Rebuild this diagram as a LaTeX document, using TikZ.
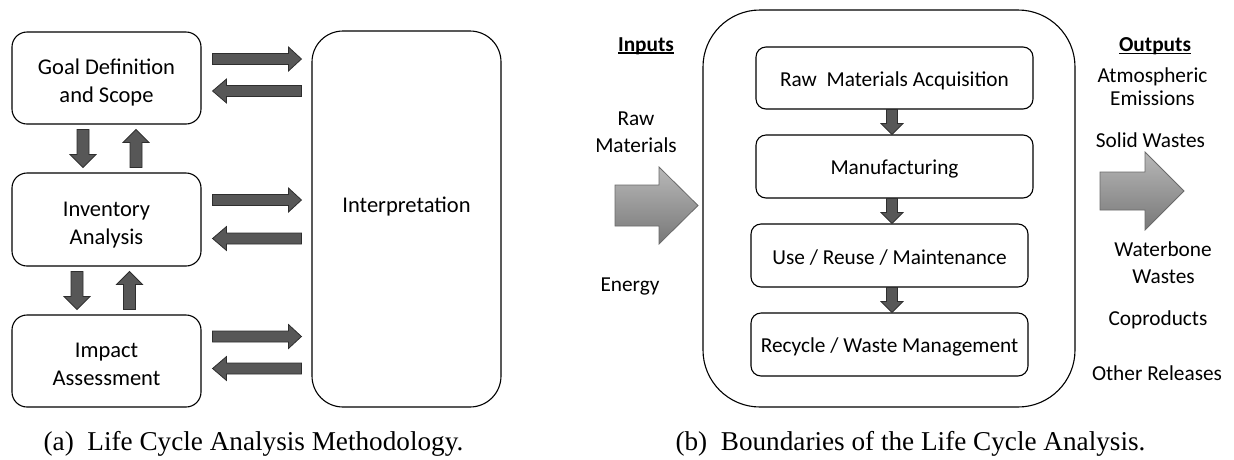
\documentclass[tikz,border=0pt]{standalone}
\usepackage{fontspec}
\setmainfont{Carlito}
\newfontfamily\capfont{Liberation Serif}
\usetikzlibrary{calc}

\definecolor{arrowfill}{HTML}{575757}
\definecolor{arrowline}{HTML}{2E2E2E}
\definecolor{shadetop}{HTML}{B8B8B8}
\definecolor{shadebot}{HTML}{787878}
\definecolor{shadeline}{HTML}{6A6A6A}

% underlined heading word, rule drawn just below the baseline
\newcommand\ulword[1]{\setbox0=\hbox{#1}\rlap{\rule[-2.6pt]{\wd0}{1.4pt}}\box0}
% box text block moved vertically without changing the node size
\newcommand\shifted[2]{\raisebox{#1}[\height][\depth]{\begin{tabular}{@{}c@{}}#2\end{tabular}}}

\tikzset{
  % block arrow drawn along the straight line from start to target:
  % #1 half shaft width, #2 half head width, #3 head length
  fatarrow/.style n args={3}{
    to path={
      let \p1=(\tikztostart), \p2=(\tikztotarget),
          \n1={veclen(\x2-\x1,\y2-\y1)},
          \n2={(\x2-\x1)/\n1}, \n3={(\y2-\y1)/\n1},
          \n4={\n1-#3}
      in
      ({\x1-\n3*#1},{\y1+\n2*#1})
      -- ({\x1+\n2*\n4-\n3*#1},{\y1+\n3*\n4+\n2*#1})
      -- ({\x1+\n2*\n4-\n3*#2},{\y1+\n3*\n4+\n2*#2})
      -- (\p2)
      -- ({\x1+\n2*\n4+\n3*#2},{\y1+\n3*\n4-\n2*#2})
      -- ({\x1+\n2*\n4+\n3*#1},{\y1+\n3*\n4-\n2*#1})
      -- ({\x1+\n3*#1},{\y1-\n2*#1})
      -- cycle
    }
  },
  darkarrow/.style={fill=arrowfill, draw=arrowline, line width=0.8pt, line join=miter},
  shadearrow/.style={top color=shadetop, bottom color=shadebot, draw=shadeline, line width=0.8pt, line join=miter},
  leftfont/.style={font=\fontsize{22.5}{28}\selectfont},
  rightfont/.style={font=\fontsize{21.3}{25.5}\selectfont},
  box/.style={draw=black, line width=1.1pt, rounded corners=15pt, align=center, inner sep=0pt, leftfont},
  stagebox/.style={draw=black, line width=1.1pt, rounded corners=10pt, align=center, inner sep=0pt,
    minimum width=277pt, minimum height=63pt, rightfont},
  lbl/.style={inner sep=0pt, anchor=base, align=center, rightfont},
  caption/.style={inner sep=0pt, anchor=base, font=\capfont\fontsize{27.2}{32}\selectfont}
}

\begin{document}
\begin{tikzpicture}[x=1pt, y=-1pt]
  \useasboundingbox (0,0) rectangle (1234,459);

  % ---------- (a) methodology ----------
  \node[box, minimum width=189pt, minimum height=92pt] (goal) at (106.5,78)
       {\shifted{-5pt}{Goal Definition\\and Scope}};
  \node[box, minimum width=189pt, minimum height=93pt] (inv)  at (106.5,219.5)
       {\shifted{-5pt}{Inventory\\Analysis}};
  \node[box, minimum width=189pt, minimum height=92pt] (imp)  at (106.5,361)
       {\shifted{-5pt}{Impact\\Assessment}};
  \node[box, rounded corners=31pt, minimum width=189pt, minimum height=376pt] (interp) at (406.5,219)
       {\raisebox{12.5pt}[\height][\depth]{Interpretation}};

  % stage-to-stage arrows
  \draw[darkarrow, fatarrow={6pt}{13pt}{13pt}] ($(goal.south)+(-23.5,5)$) to ($(inv.north)+(-23.5,-5)$);
  \draw[darkarrow, fatarrow={6pt}{13pt}{13pt}] ($(inv.north)+(29.5,-5)$) to ($(goal.south)+(29.5,5)$);
  \draw[darkarrow, fatarrow={6pt}{13pt}{13pt}] ($(inv.south)+(-29.5,5)$) to ($(imp.north)+(-29.5,-5)$);
  \draw[darkarrow, fatarrow={6pt}{13pt}{13pt}] ($(imp.north)+(23,-5)$) to ($(inv.south)+(23,5)$);

  % exchanges with the interpretation phase
  \draw[darkarrow, fatarrow={5.5pt}{12pt}{13pt}] ($(goal.east)+(11,-19)$) to ($(goal.east -| interp.west)+(-10,-19)$);
  \draw[darkarrow, fatarrow={5.5pt}{12pt}{14pt}] ($(goal.east -| interp.west)+(-10,13)$) to ($(goal.east)+(11,13)$);
  \draw[darkarrow, fatarrow={5.5pt}{12pt}{13pt}] ($(inv.east)+(11,-19.5)$) to ($(inv.east -| interp.west)+(-10,-19.5)$);
  \draw[darkarrow, fatarrow={5.5pt}{12pt}{14pt}] ($(inv.east -| interp.west)+(-10,19)$) to ($(inv.east)+(11,19)$);
  \draw[darkarrow, fatarrow={5.5pt}{12pt}{13pt}] ($(imp.east)+(11,-24.5)$) to ($(imp.east -| interp.west)+(-10,-24.5)$);
  \draw[darkarrow, fatarrow={5.5pt}{12pt}{14pt}] ($(imp.east -| interp.west)+(-10,7.5)$) to ($(imp.east)+(11,7.5)$);

  \node[caption] (capa) at (253.5,450) {(a)\hspace{0.5em}Life Cycle Analysis Methodology.};

  % ---------- (b) boundaries ----------
  \node[draw=black, line width=1.1pt, rounded corners=57pt, minimum width=372pt, minimum height=397pt, inner sep=0pt]
       (lca) at (889,208.5) {};
  \node[stagebox, minimum height=62pt] (rma) at (894.5,78)
       {\raisebox{-2.5pt}[\height][\depth]{Raw\ \ Materials Acquisition}};
  \node[stagebox] (man) at (894.5,166.5) {\raisebox{-2.5pt}[\height][\depth]{Manufacturing}};
  \node[stagebox] (use) at (889.5,255.5) {\raisebox{-2.5pt}[\height][\depth]{Use / Reuse / Maintenance}};
  \node[stagebox] (rec) at (889.5,344.5) {\raisebox{-2.5pt}[\height][\depth]{Recycle / Waste Management}};

  \draw[darkarrow, fatarrow={5.5pt}{11pt}{11pt}] ($(rma.south)+(-2.5,0)$) to ($(man.north)+(-2.5,0)$);
  \draw[darkarrow, fatarrow={5.5pt}{11pt}{11pt}] ($(man.south)+(-2.5,0)$) to ($(use.north)+(2.5,0)$);
  \draw[darkarrow, fatarrow={5.5pt}{11pt}{11pt}] ($(use.south)+(2.5,0)$) to ($(rec.north)+(2.5,0)$);

  % inputs
  \node[lbl, font=\bfseries\fontsize{21.3}{25.5}\selectfont] (inputs) at (646,51) {\ulword{Inputs}};
  \node[lbl] (rawin) at (636,125) {Raw};
  \node[lbl] (matin) at (636,152) {Materials};
  \node[lbl] (energy) at (630,291.5) {Energy};
  \coordinate (inS) at (615,205.5);
  \coordinate (inT) at (698,205.5);
  \path[shadearrow, fatarrow={20.5pt}{38.5pt}{39pt}] (inS) to (inT);

  % outputs
  \node[lbl, font=\bfseries\fontsize{21.3}{25.5}\selectfont] (outputs) at (1155,51.5) {\ulword{Outputs}};
  \node[lbl] (atm) at (1152.5,82) {Atmospheric};
  \node[lbl] (emi) at (1152.5,105) {Emissions};
  \node[lbl] (solid) at (1150.5,147) {Solid Wastes};
  \node[lbl] (water) at (1163,256) {Waterbone};
  \node[lbl] (wwaste) at (1163.5,283) {Wastes};
  \node[lbl] (copr) at (1158,325) {Coproducts};
  \node[lbl] (other) at (1157,380) {Other Releases};
  \coordinate (outS) at (1100,191);
  \coordinate (outT) at (1184,191);
  \path[shadearrow, fatarrow={19pt}{39pt}{39pt}] (outS) to (outT);

  \node[caption] (capb) at (910.5,450) {(b)\hspace{0.5em}Boundaries of the Life Cycle Analysis.};
\end{tikzpicture}
\end{document}
